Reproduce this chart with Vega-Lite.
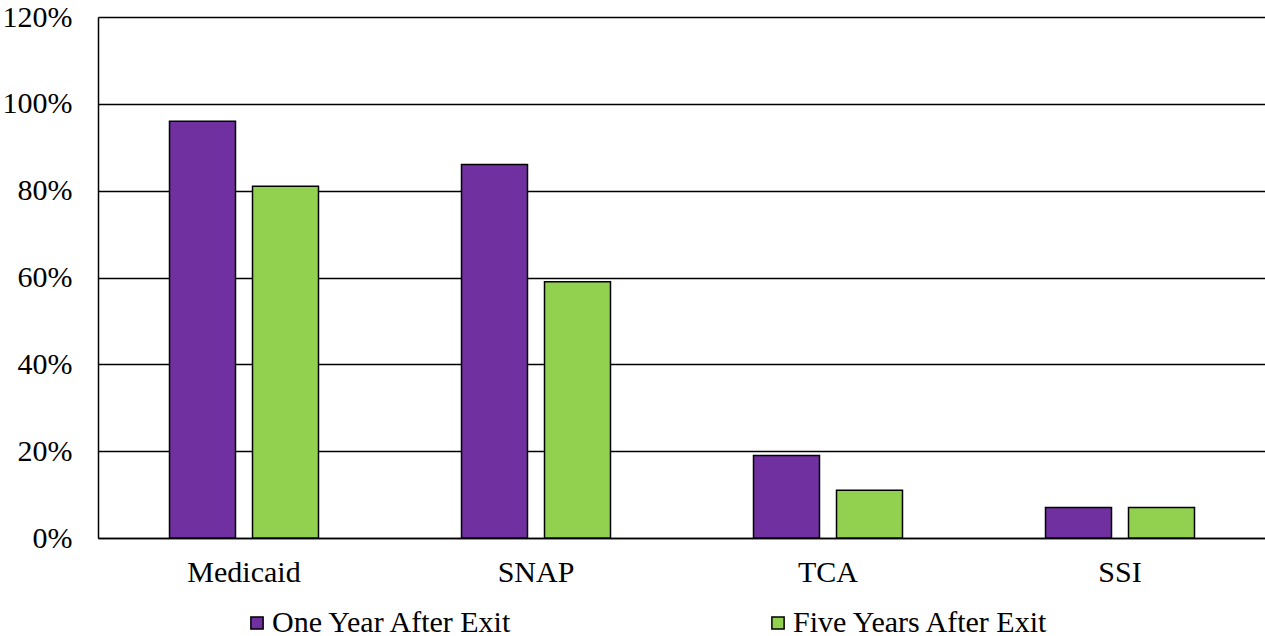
{
  "$schema": "https://vega.github.io/schema/vega-lite/v6.json",
  "autosize": {"type": "none"},
  "width": 1168,
  "height": 521,
  "padding": {"left": 98, "top": 17, "right": 0, "bottom": 98},
  "background": "white",
  "config": {
    "view": {"stroke": null},
    "font": "Liberation Serif",
    "axis": {"labelFont": "Liberation Serif", "labelFontSize": 30, "labelColor": "black", "ticks": false, "title": null},
    "legend": {"labelFont": "Liberation Serif", "labelFontSize": 30, "labelColor": "black", "labelLimit": 0}
  },
  "data": {
    "values": [
      {"program": "Medicaid", "period": "One Year After Exit", "value": 0.96},
      {"program": "Medicaid", "period": "Five Years After Exit", "value": 0.81},
      {"program": "SNAP", "period": "One Year After Exit", "value": 0.86},
      {"program": "SNAP", "period": "Five Years After Exit", "value": 0.59},
      {"program": "TCA", "period": "One Year After Exit", "value": 0.19},
      {"program": "TCA", "period": "Five Years After Exit", "value": 0.11},
      {"program": "SSI", "period": "One Year After Exit", "value": 0.07},
      {"program": "SSI", "period": "Five Years After Exit", "value": 0.07}
    ]
  },
  "mark": {"type": "bar", "stroke": "black", "strokeWidth": 1.5},
  "encoding": {
    "x": {
      "field": "program", "type": "nominal", "sort": ["Medicaid", "SNAP", "TCA", "SSI"],
      "scale": {"paddingInner": 0, "paddingOuter": 0},
      "axis": {"labelAngle": 0, "labelPadding": 19, "domainColor": "black", "domainWidth": 1.5}
    },
    "xOffset": {
      "field": "period", "type": "nominal", "sort": ["One Year After Exit", "Five Years After Exit"],
      "scale": {"paddingInner": 0.205, "paddingOuter": 0.8615}
    },
    "y": {
      "field": "value", "type": "quantitative",
      "scale": {"domain": [0, 1.2]},
      "axis": {"format": ".0%", "values": [0, 0.2, 0.4, 0.6, 0.8, 1.0, 1.2], "gridColor": "black", "gridWidth": 1.5, "gridOpacity": 1, "domainColor": "black", "domainWidth": 1.5, "labelPadding": 26}
    },
    "color": {
      "field": "period", "type": "nominal", "sort": ["One Year After Exit", "Five Years After Exit"],
      "scale": {"domain": ["One Year After Exit", "Five Years After Exit"], "range": ["#7030A0", "#92D050"]},
      "legend": {
        "title": null, "orient": "none", "direction": "horizontal",
        "legendX": 144, "legendY": 591,
        "symbolType": "square", "symbolSize": 150, "symbolStrokeColor": "black", "symbolStrokeWidth": 1.5,
        "labelOffset": 0, "columnPadding": 249
      }
    }
  }
}
